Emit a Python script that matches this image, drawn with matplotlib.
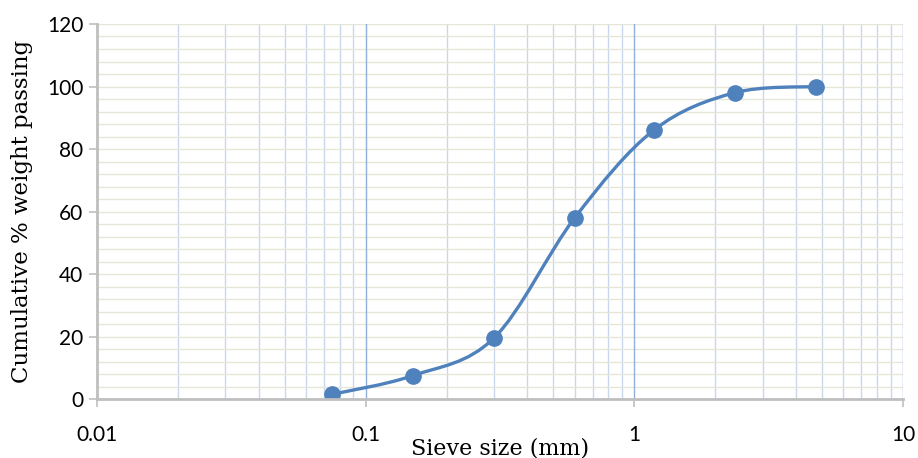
import numpy as np
import matplotlib.pyplot as plt
from matplotlib.path import Path
from matplotlib.patches import PathPatch
from matplotlib.ticker import FixedLocator, NullFormatter

# sieve analysis data
sieve_mm = [0.075, 0.15, 0.3, 0.6, 1.18, 2.36, 4.75]
passing = [1.5, 7.5, 19.5, 58, 86, 98, 100]
x_ticks = [0.01, 0.1, 1, 10]
x_tick_labels = ["0.01", "0.1", "1", "10"]
y_ticks = [0, 20, 40, 60, 80, 100, 120]

blue = "#4f81bd"
axis_grey = "#bfbfbf"


def smooth_path(xs, ys):
    # Excel-style smoothed line: cubic Bezier segments (Catmull-Rom) in log-x space
    lx = np.log10(xs)
    ys = np.asarray(ys, dtype=float)
    pts = np.column_stack([lx, ys])
    n = len(pts)
    verts = [pts[0]]
    codes = [Path.MOVETO]
    for i in range(n - 1):
        p0 = pts[i - 1] if i > 0 else pts[i]
        p1 = pts[i]
        p2 = pts[i + 1]
        p3 = pts[i + 2] if i + 2 < n else pts[i + 1]
        c1 = p1 + (p2 - p0) / 6
        c2 = p2 - (p3 - p1) / 6
        verts += [c1, c2, p2]
        codes += [Path.CURVE4] * 3
    verts = np.array(verts)
    verts[:, 0] = 10 ** verts[:, 0]
    return Path(verts, codes)


fig = plt.figure(figsize=(9.18, 4.58), dpi=100)
ax = fig.add_axes([0.1057, 0.1288, 0.878, 0.8188])

ax.set_xscale("log")
ax.set_xlim(0.01, 10)
ax.set_ylim(0, 120)

# grid lines
minor_x = [m * d for d in [0.01, 0.1, 1] for m in range(2, 10)]
for xv in minor_x:
    ax.axvline(xv, color="#c9d7ec", lw=1.0, zorder=0)
for xv in [0.1, 1, 10]:
    ax.axvline(xv, color="#8faedb", lw=1.0, zorder=0.5)
for yv in np.arange(4, 121, 4):
    ax.axhline(yv, color="#e6e6d8", lw=1.0, zorder=0)

ax.add_patch(PathPatch(smooth_path(sieve_mm, passing), fill=False,
                       edgecolor=blue, lw=2.4, zorder=3, capstyle="round"))
ax.plot(sieve_mm, passing, "o", color=blue, ms=11, zorder=4)

ax.xaxis.set_major_locator(FixedLocator(x_ticks))
ax.set_xticklabels(x_tick_labels)
ax.xaxis.set_minor_locator(FixedLocator([]))
ax.xaxis.set_minor_formatter(NullFormatter())
ax.set_yticks(y_ticks)

for s in ["top", "right"]:
    ax.spines[s].set_visible(False)
for s in ["left", "bottom"]:
    ax.spines[s].set_color(axis_grey)
    ax.spines[s].set_linewidth(2)
    ax.spines[s].set_zorder(5)

ax.tick_params(axis="both", direction="out", length=6, width=1.2, color=axis_grey,
               labelsize=15, labelcolor="black", labelfontfamily="Lato")
ax.tick_params(axis="x", pad=13)
ax.tick_params(axis="y", pad=4)

ax.set_xlabel("Sieve size (mm)", family="DejaVu Serif", fontsize=16, labelpad=-6)
ax.set_ylabel("Cumulative % weight passing", family="DejaVu Serif", fontsize=16.5,
              labelpad=10)

fig.savefig("out.png", dpi=100)
